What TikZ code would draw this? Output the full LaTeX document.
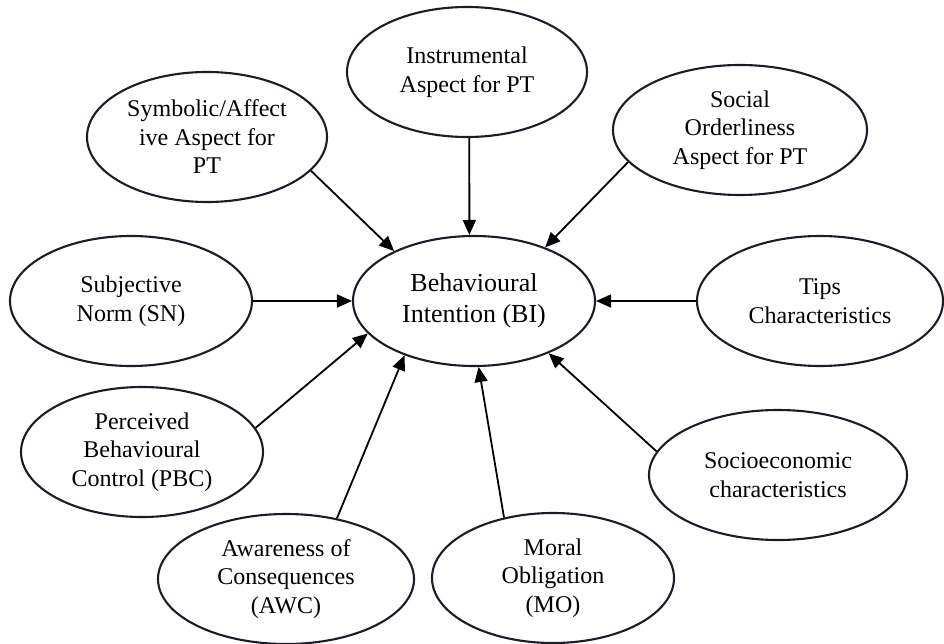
\documentclass[tikz,border=0pt]{standalone}
\usepackage{fontspec}
\setmainfont{Liberation Serif}
\usetikzlibrary{shapes.geometric,arrows.meta}
\definecolor{rim}{RGB}{28,28,40}
\tikzset{
  construct/.style={ellipse, draw=rim, line width=2.1pt, inner sep=0pt,
    align=center, minimum height=130pt,
    font=\fontsize{24}{28.5}\selectfont},
  effect/.style={-{Triangle[length=15pt,width=13pt]}, line width=1.8pt, black}
}
\begin{document}
\begin{tikzpicture}[x=1pt,y=-1pt]
\useasboundingbox (0,0) rectangle (944,644);

% central construct
\node[construct, minimum width=242pt, font=\fontsize{26}{31}\selectfont]
  (bi) at (474,301) {Behavioural\\Intention (BI)};

% antecedents
\node[construct, minimum width=240pt] (instr) at (467,72) {Instrumental\\Aspect for PT};
\node[construct, minimum width=240pt] (symb) at (207,137) {Symbolic/Affect\\ive Aspect for\\PT};
\node[construct, minimum width=254pt] (soc) at (740,130) {Social\\Orderliness\\Aspect for PT};
\node[construct, minimum width=242pt] (sn) at (131,301) {Subjective\\Norm (SN)};
\node[construct, minimum width=246pt] (tips) at (820,301) {Tips\\Characteristics};
\node[construct, minimum width=242pt] (pbc) at (142,452) {Perceived\\Behavioural\\Control (PBC)};
\node[construct, minimum width=258pt] (ses) at (778,475) {Socioeconomic\\characteristics};
\node[construct, minimum width=256pt] (awc) at (286,579) {Awareness of\\Consequences\\(AWC)};
\node[construct, minimum width=242pt] (mo) at (553,578) {Moral\\Obligation\\(MO)};

% paths into behavioural intention
\draw[effect] (instr.-88) -- (bi.94);
\draw[effect] (symb.-18.4) -- (bi.148.6);
\draw[effect] (soc.196.4) -- (bi.37.8);
\draw[effect] (sn.east) -- (bi.west);
\draw[effect] (tips.west) -- (bi.east);
\draw[effect] (pbc.12.5) -- (bi.197.3);
\draw[effect] (awc.50) -- (bi.218.6);
\draw[effect] (mo.129) -- (bi.-86.5);
\draw[effect] (ses.169.2) -- (bi.-35.9);
\end{tikzpicture}
\end{document}
